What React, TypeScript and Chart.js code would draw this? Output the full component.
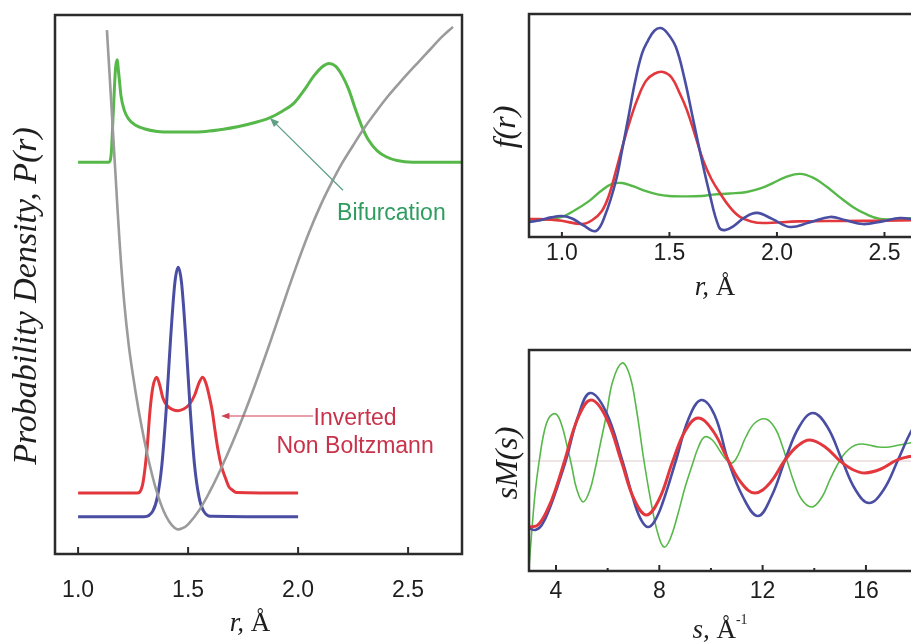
import { useEffect, useRef } from "react";
import { Chart, registerables } from "chart.js";

Chart.register(...registerables);

// ---------- Left panel: model potential and probability densities P(r) ----------
const potentialR = [1.131, 1.15, 1.17, 1.19, 1.21, 1.23, 1.25, 1.275, 1.3, 1.325, 1.35, 1.375, 1.4, 1.425, 1.45, 1.475, 1.5, 1.55, 1.6, 1.65, 1.7, 1.75, 1.8, 1.85, 1.9, 1.95, 2.0, 2.05, 2.1, 2.15, 2.2, 2.25, 2.3, 2.35, 2.4, 2.45, 2.5, 2.55, 2.6, 2.65, 2.704];
const potentialP = [97.2, 84.2, 70.4, 57.0, 46.5, 38.8, 33.0, 26.7, 21.3, 16.6, 12.6, 9.4, 7.0, 5.4, 4.6, 4.8, 5.5, 8.1, 11.7, 15.9, 20.5, 25.5, 30.9, 36.6, 42.5, 48.5, 54.3, 59.7, 64.5, 68.7, 72.5, 75.8, 79.0, 81.8, 84.5, 86.9, 89.2, 91.4, 93.6, 95.8, 97.8];

const boltzmannR = [1.0, 1.3, 1.34, 1.36, 1.38, 1.4, 1.42, 1.44, 1.455, 1.47, 1.49, 1.51, 1.53, 1.55, 1.57, 1.61, 2.0];
const boltzmannP = [6.9, 6.9, 8.0, 10.5, 16.2, 26.5, 39.7, 50.4, 53.2, 50.4, 39.7, 26.5, 16.2, 10.5, 8.0, 7.0, 6.9];

const invertedR = [1.0, 1.27, 1.285, 1.295, 1.313, 1.327, 1.34, 1.357, 1.37, 1.385, 1.405, 1.43, 1.455, 1.48, 1.505, 1.53, 1.55, 1.566, 1.58, 1.595, 1.609, 1.622, 1.636, 1.652, 1.668, 1.685, 1.7, 1.72, 2.0];
const invertedP = [11.3, 11.3, 11.8, 13.2, 19.3, 26.7, 31.0, 32.8, 31.5, 29.0, 27.5, 26.8, 26.6, 26.9, 27.7, 29.5, 31.8, 32.8, 31.8, 29.5, 26.7, 23.0, 19.3, 16.2, 14.3, 12.5, 11.9, 11.4, 11.3];

const bifurcationR = [1.0, 1.14, 1.15, 1.16, 1.17, 1.177, 1.185, 1.195, 1.21, 1.23, 1.26, 1.3, 1.36, 1.43, 1.5, 1.58, 1.66, 1.73, 1.8, 1.87, 1.93, 1.98, 2.03, 2.07, 2.11, 2.14, 2.17, 2.2, 2.23, 2.26, 2.29, 2.32, 2.36, 2.4, 2.45, 2.52, 2.745];
const bifurcationP = [72.7, 72.7, 74.0, 82.0, 90.0, 91.7, 89.0, 85.0, 82.3, 80.7, 79.6, 78.9, 78.4, 78.3, 78.3, 78.4, 78.8, 79.3, 80.0, 80.9, 82.2, 83.6, 86.2, 88.6, 90.4, 91.0, 90.5, 88.8, 86.2, 82.6, 79.3, 76.8, 74.8, 73.7, 73.0, 72.7, 72.7];

const distTicks = [1.0, 1.5, 2.0, 2.5];

// annotation anchors, in data units of the left panel
const bifurcationText = "Bifurcation";
const bifurcationTextAt = { r: 2.177, p: 62.0 };
const bifurcationArrow = { from: { r: 2.204, p: 67.5 }, to: { r: 1.872, p: 80.9 } };
const invertedText = ["Inverted", "Non Boltzmann"];
const invertedTextAt = { r: 2.259, p: [23.9, 18.7] };
const invertedArrow = { from: { r: 2.068, p: 25.6 }, to: { r: 1.65, p: 25.6 } };

// ---------- Upper right: radial distribution f(r) ----------
const fBlueR = [0.847, 0.9, 0.95, 1.0, 1.05, 1.1, 1.158, 1.2, 1.251, 1.28, 1.312, 1.34, 1.372, 1.4, 1.43, 1.46, 1.49, 1.53, 1.57, 1.605, 1.645, 1.684, 1.73, 1.758, 1.8, 1.85, 1.907, 1.98, 2.06, 2.15, 2.247, 2.32, 2.4, 2.49, 2.572, 2.642];
const fBlue = [6.7, 7.5, 8.8, 9.4, 8.2, 5.2, 2.7, 9.5, 25.1, 39.0, 55.2, 69.5, 82.1, 88.0, 92.5, 93.7, 91.5, 85.2, 71.0, 55.2, 37.0, 20.6, 4.5, 3.1, 5.0, 8.8, 10.8, 8.0, 4.5, 6.5, 9.0, 7.5, 5.8, 7.0, 8.5, 7.8];

const fRedR = [0.847, 0.95, 1.0, 1.093, 1.14, 1.186, 1.22, 1.251, 1.28, 1.312, 1.35, 1.391, 1.43, 1.47, 1.51, 1.55, 1.581, 1.62, 1.656, 1.695, 1.735, 1.78, 1.828, 1.88, 1.935, 2.1, 2.3, 2.5, 2.642];
const fRed = [8.1, 7.8, 7.3, 5.8, 7.5, 11.7, 19.0, 29.6, 40.0, 50.7, 61.5, 70.0, 73.2, 74.0, 71.5, 64.0, 57.0, 45.5, 34.5, 26.0, 19.7, 13.5, 9.0, 7.0, 6.3, 7.0, 7.2, 7.3, 7.5];

const fGreenR = [0.847, 0.92, 1.0, 1.06, 1.126, 1.18, 1.233, 1.28, 1.33, 1.391, 1.45, 1.498, 1.58, 1.651, 1.702, 1.78, 1.86, 1.93, 1.981, 2.04, 2.107, 2.17, 2.233, 2.29, 2.353, 2.42, 2.479, 2.55, 2.642];
const fGreen = [7.2, 7.8, 9.0, 12.0, 16.1, 20.5, 23.8, 24.2, 22.8, 20.6, 19.0, 18.4, 18.2, 18.4, 19.0, 19.5, 20.2, 22.0, 24.2, 26.8, 28.3, 26.5, 22.4, 18.0, 13.5, 10.0, 8.1, 8.0, 8.5];

// ---------- Lower right: molecular scattering sM(s) ----------
const sBlueS = [2.955, 3.2, 3.45, 3.73, 4.05, 4.4, 4.86, 5.32, 5.94, 6.56, 7.05, 7.3, 7.55, 7.8, 8.1, 8.65, 9.13, 9.62, 10.14, 10.66, 11.24, 11.82, 12.35, 12.87, 13.41, 13.95, 14.51, 15.07, 15.6, 16.12, 16.68, 17.24, 17.6, 17.9];
const sBlue = [-6.7, -6.9, -6.4, -4.9, -2.6, 0.2, 4.5, 6.8, 4.9, 0.1, -4.3, -5.9, -6.6, -6.1, -4.4, 0.1, 4.2, 6.1, 4.6, 0.1, -3.6, -5.5, -3.5, 0.1, 3.4, 4.8, 3.4, 0.1, -2.9, -4.2, -2.9, 0.1, 2.2, 3.7];

const sRedS = [2.955, 3.3, 3.7, 4.0, 4.33, 4.85, 5.36, 5.95, 6.54, 7.02, 7.5, 8.0, 8.51, 9.0, 9.5, 10.08, 10.66, 11.18, 11.7, 12.28, 12.87, 13.35, 13.83, 14.42, 15.0, 15.48, 15.96, 16.58, 17.2, 17.6, 17.9];
const sRed = [-6.6, -6.4, -4.7, -2.7, 0.0, 4.3, 6.1, 4.3, -0.1, -3.8, -5.4, -3.8, -0.1, 3.0, 4.3, 3.0, 0.1, -2.2, -3.2, -2.2, 0.1, 1.5, 2.1, 1.4, 0.0, -0.85, -1.2, -0.8, 0.1, 0.4, 0.5];

const sGreenS = [2.955, 3.08, 3.2, 3.35, 3.55, 3.75, 4.0, 4.22, 4.42, 4.6, 4.8, 5.05, 5.3, 5.5, 5.7, 5.95, 6.2, 6.56, 6.85, 7.1, 7.42, 7.7, 7.95, 8.18, 8.42, 8.7, 9.0, 9.3, 9.5, 9.75, 10.05, 10.35, 10.6, 10.82, 11.05, 11.35, 11.7, 12.13, 12.5, 12.75, 12.95, 13.2, 13.5, 13.91, 14.3, 14.6, 14.85, 15.1, 15.35, 15.6, 15.85, 16.1, 16.5, 16.9, 17.3, 17.7, 17.9];
const sGreen = [-10.6, -6.5, -3.0, 0.0, 3.0, 4.4, 4.7, 3.6, 1.6, -0.4, -2.8, -4.1, -3.0, -1.0, 1.5, 4.6, 8.0, 9.8, 8.6, 5.4, -0.2, -4.4, -7.3, -8.6, -7.8, -5.5, -2.6, -0.2, 1.3, 2.4, 2.1, 1.0, 0.1, -0.2, 0.6, 2.4, 3.8, 4.2, 3.2, 1.6, 0.0, -2.0, -3.8, -4.6, -3.6, -1.9, -0.6, 0.5, 1.2, 1.6, 1.7, 1.6, 1.4, 1.4, 1.6, 1.8, 1.9];

const sTicks = [4, 8, 12, 16];
const sMinorTicks = [6, 10, 14];

// ---------- styling ----------
const SERIF = "'Liberation Serif', 'Times New Roman', serif";
const SANS = "'Liberation Sans', Arial, Helvetica, sans-serif";
const BLUE = "#4a4ea3";
const RED = "#e2383d";
const GREEN = "#57b84a";
const GRAY = "#9b9b9b";
const FRAME = "#2b2b2b";
const TEXT = "#1e1e1e";

type Pt = { x: number; y: number };
const pts = (xs: number[], ys: number[]): Pt[] => xs.map((x, i) => ({ x, y: ys[i] }));

type Part = { text: string; font: string; dy?: number };

function drawParts(ctx: CanvasRenderingContext2D, parts: Part[], cx: number, y: number, color: string, baseline: CanvasTextBaseline) {
  ctx.fillStyle = color;
  ctx.textAlign = "left";
  ctx.textBaseline = baseline;
  const widths = parts.map((p) => {
    ctx.font = p.font;
    return ctx.measureText(p.text).width;
  });
  let x = cx - widths.reduce((a, b) => a + b, 0) / 2;
  parts.forEach((p, i) => {
    ctx.font = p.font;
    ctx.fillText(p.text, x, y + (p.dy ?? 0));
    x += widths[i];
  });
}

function drawArrow(ctx: CanvasRenderingContext2D, x1: number, y1: number, x2: number, y2: number, color: string, width: number, head: number) {
  const ang = Math.atan2(y2 - y1, x2 - x1);
  ctx.strokeStyle = color;
  ctx.fillStyle = color;
  ctx.lineWidth = width;
  ctx.beginPath();
  ctx.moveTo(x1, y1);
  ctx.lineTo(x2 - Math.cos(ang) * head * 0.7, y2 - Math.sin(ang) * head * 0.7);
  ctx.stroke();
  ctx.beginPath();
  ctx.moveTo(x2, y2);
  ctx.lineTo(x2 - head * Math.cos(ang - 0.38), y2 - head * Math.sin(ang - 0.38));
  ctx.lineTo(x2 - head * Math.cos(ang + 0.38), y2 - head * Math.sin(ang + 0.38));
  ctx.closePath();
  ctx.fill();
}

interface FrameSpec {
  major: number[];
  minor: number[];
  majorLen: number;
  minorLen: number;
  xTitle: Part[];
  xTitleAt: [number, number];
  yTitle: Part[];
  yTitleAt: [number, number];
  extra?: (chart: Chart) => void;
}

const framePlugin = (spec: FrameSpec) => ({
  id: "frame",
  afterDatasetsDraw(chart: Chart) {
    if (spec.extra) {
      chart.ctx.save();
      spec.extra(chart);
      chart.ctx.restore();
    }
  },
  afterDraw(chart: Chart) {
    const { ctx, chartArea: a } = chart;
    const xs = chart.scales.x;
    ctx.save();
    ctx.strokeStyle = FRAME;
    ctx.lineWidth = 2.5;
    ctx.strokeRect(a.left, a.top, a.right - a.left, a.bottom - a.top);
    // inward tick marks on the bottom axis
    ctx.lineWidth = 2;
    const tick = (v: number, len: number) => {
      const px = xs.getPixelForValue(v);
      ctx.beginPath();
      ctx.moveTo(px, a.bottom);
      ctx.lineTo(px, a.bottom - len);
      ctx.stroke();
    };
    spec.major.forEach((v) => tick(v, spec.majorLen));
    spec.minor.forEach((v) => tick(v, spec.minorLen));
    drawParts(ctx, spec.xTitle, spec.xTitleAt[0], spec.xTitleAt[1], TEXT, "alphabetic");
    ctx.translate(spec.yTitleAt[0], spec.yTitleAt[1]);
    ctx.rotate(-Math.PI / 2);
    drawParts(ctx, spec.yTitle, 0, 0, TEXT, "middle");
    ctx.restore();
  },
});

function baseOptions(opts: {
  pad: { left: number; top: number; right: number };
  axisHeight: number;
  xMin: number;
  xMax: number;
  yMin: number;
  yMax: number;
  ticks: number[];
  decimals: number;
  labelPad: number;
}) {
  return {
    animation: false as const,
    responsive: false,
    devicePixelRatio: 1,
    events: [] as any[],
    layout: { padding: { left: opts.pad.left, top: opts.pad.top, right: opts.pad.right, bottom: 0 } },
    elements: { point: { radius: 0 } },
    plugins: { legend: { display: false }, tooltip: { enabled: false } },
    scales: {
      x: {
        type: "linear" as const,
        min: opts.xMin,
        max: opts.xMax,
        afterBuildTicks: (s: any) => {
          s.ticks = opts.ticks.map((v) => ({ value: v }));
        },
        afterFit: (s: any) => {
          s.height = opts.axisHeight;
        },
        grid: { display: false, drawTicks: false },
        border: { display: false },
        ticks: {
          padding: opts.labelPad,
          autoSkip: false,
          maxRotation: 0,
          color: TEXT,
          font: { family: SANS, size: 23 },
          callback: (v: any) => Number(v).toFixed(opts.decimals),
        },
      },
      y: { display: false, min: opts.yMin, max: opts.yMax },
    },
  };
}

// smooth: cardinal spline through the points; otherwise monotone cubic (keeps flat baselines flat)
const line = (data: Pt[], color: string, width: number, smooth = true) => ({
  data,
  borderColor: color,
  borderWidth: width,
  pointRadius: 0,
  fill: false,
  ...(smooth ? { tension: 0.4, cubicInterpolationMode: "default" as const } : { cubicInterpolationMode: "monotone" as const }),
});

const italic = (size: number) => `italic ${size}px ${SERIF}`;
const upright = (size: number) => `${size}px ${SERIF}`;

export default function App() {
  const leftRef = useRef<HTMLCanvasElement | null>(null);
  const topRef = useRef<HTMLCanvasElement | null>(null);
  const bottomRef = useRef<HTMLCanvasElement | null>(null);

  useEffect(() => {
    const charts: Chart[] = [];

    // ---- P(r) panel ----
    if (leftRef.current) {
      const annotate = (chart: Chart) => {
        const { ctx } = chart;
        const xs = chart.scales.x;
        const ys = chart.scales.y;
        const X = (r: number) => xs.getPixelForValue(r);
        const Y = (p: number) => ys.getPixelForValue(p);
        drawArrow(ctx, X(bifurcationArrow.from.r), Y(bifurcationArrow.from.p), X(bifurcationArrow.to.r), Y(bifurcationArrow.to.p), "#5f9f84", 1.3, 10);
        ctx.fillStyle = "#2f9c60";
        ctx.font = `23px ${SANS}`;
        ctx.textAlign = "left";
        ctx.textBaseline = "alphabetic";
        ctx.fillText(bifurcationText, X(bifurcationTextAt.r), Y(bifurcationTextAt.p));
        drawArrow(ctx, X(invertedArrow.from.r), Y(invertedArrow.from.p), X(invertedArrow.to.r), Y(invertedArrow.to.p), "#cf4255", 1.2, 9);
        ctx.fillStyle = "#c8324a";
        ctx.textAlign = "center";
        invertedText.forEach((t, i) => ctx.fillText(t, X(invertedTextAt.r), Y(invertedTextAt.p[i])));
      };
      charts.push(
        new Chart(leftRef.current, {
          type: "line",
          data: {
            datasets: [
              line(pts(potentialR, potentialP), GRAY, 2.6, true),
              line(pts(boltzmannR, boltzmannP), BLUE, 3, false),
              line(pts(invertedR, invertedP), RED, 3, false),
              line(pts(bifurcationR, bifurcationP), GREEN, 3, false),
            ],
          },
          options: baseOptions({
            pad: { left: 55, top: 15, right: 18 },
            axisHeight: 90,
            xMin: 0.895,
            xMax: 2.745,
            yMin: 0,
            yMax: 100,
            ticks: distTicks,
            decimals: 1,
            labelPad: 23,
          }) as any,
          plugins: [
            framePlugin({
              major: distTicks,
              minor: [],
              majorLen: 7,
              minorLen: 0,
              xTitle: [
                { text: "r,", font: italic(27) },
                { text: " Å", font: upright(27) },
              ],
              xTitleAt: [250, 631],
              yTitle: [{ text: "Probability Density, P(r)", font: italic(34) }],
              yTitleAt: [27, 296],
              extra: annotate,
            }),
          ],
        })
      );
    }

    // ---- f(r) panel ----
    if (topRef.current) {
      charts.push(
        new Chart(topRef.current, {
          type: "line",
          data: {
            datasets: [
              line(pts(fBlueR, fBlue), BLUE, 2.6),
              line(pts(fRedR, fRed), RED, 2.6),
              line(pts(fGreenR, fGreen), GREEN, 2.4),
            ],
          },
          options: baseOptions({
            pad: { left: 49, top: 14, right: 5 },
            axisHeight: 73,
            xMin: 0.847,
            xMax: 2.642,
            yMin: 0,
            yMax: 100,
            ticks: distTicks,
            decimals: 1,
            labelPad: 3,
          }) as any,
          plugins: [
            framePlugin({
              major: distTicks,
              minor: [],
              majorLen: 5,
              minorLen: 0,
              xTitle: [
                { text: "r,", font: italic(27) },
                { text: " Å", font: upright(27) },
              ],
              xTitleAt: [235, 295],
              yTitle: [{ text: "f(r)", font: italic(32) }],
              yTitleAt: [27, 127],
            }),
          ],
        })
      );
    }

    // ---- sM(s) panel ----
    if (bottomRef.current) {
      charts.push(
        new Chart(bottomRef.current, {
          type: "line",
          data: {
            datasets: [
              line(pts(sRedS, sRed), RED, 3),
              line(pts(sBlueS, sBlue), BLUE, 2.6),
              line(pts(sGreenS, sGreen), GREEN, 1.6),
              line(pts([2.955, 17.9], [0, 0]), "#dccbcb", 1),
            ],
          },
          options: baseOptions({
            pad: { left: 49, top: 40, right: 5 },
            axisHeight: 73,
            xMin: 2.955,
            xMax: 17.9,
            yMin: -11.0,
            yMax: 11.1,
            ticks: sTicks,
            decimals: 0,
            labelPad: 7,
          }) as any,
          plugins: [
            framePlugin({
              major: sTicks,
              minor: sMinorTicks,
              majorLen: 6,
              minorLen: 3,
              xTitle: [
                { text: "s,", font: italic(27) },
                { text: " Å", font: upright(27) },
                { text: "-1", font: upright(14), dy: -14 },
              ],
              xTitleAt: [240, 328],
              yTitle: [{ text: "sM(s)", font: italic(32) }],
              yTitleAt: [29, 153],
            }),
          ],
        })
      );
    }

    return () => charts.forEach((c) => c.destroy());
  }, []);

  return (
    <div
      style={{
        position: "fixed",
        left: 0,
        top: 0,
        width: 911,
        height: 644,
        overflow: "hidden",
        background: "#ffffff",
      }}
    >
      <canvas ref={leftRef} width={480} height={644} style={{ position: "absolute", left: 0, top: 0 }} />
      <canvas ref={topRef} width={440} height={310} style={{ position: "absolute", left: 480, top: 0 }} />
      <canvas ref={bottomRef} width={440} height={334} style={{ position: "absolute", left: 480, top: 310 }} />
    </div>
  );
}
